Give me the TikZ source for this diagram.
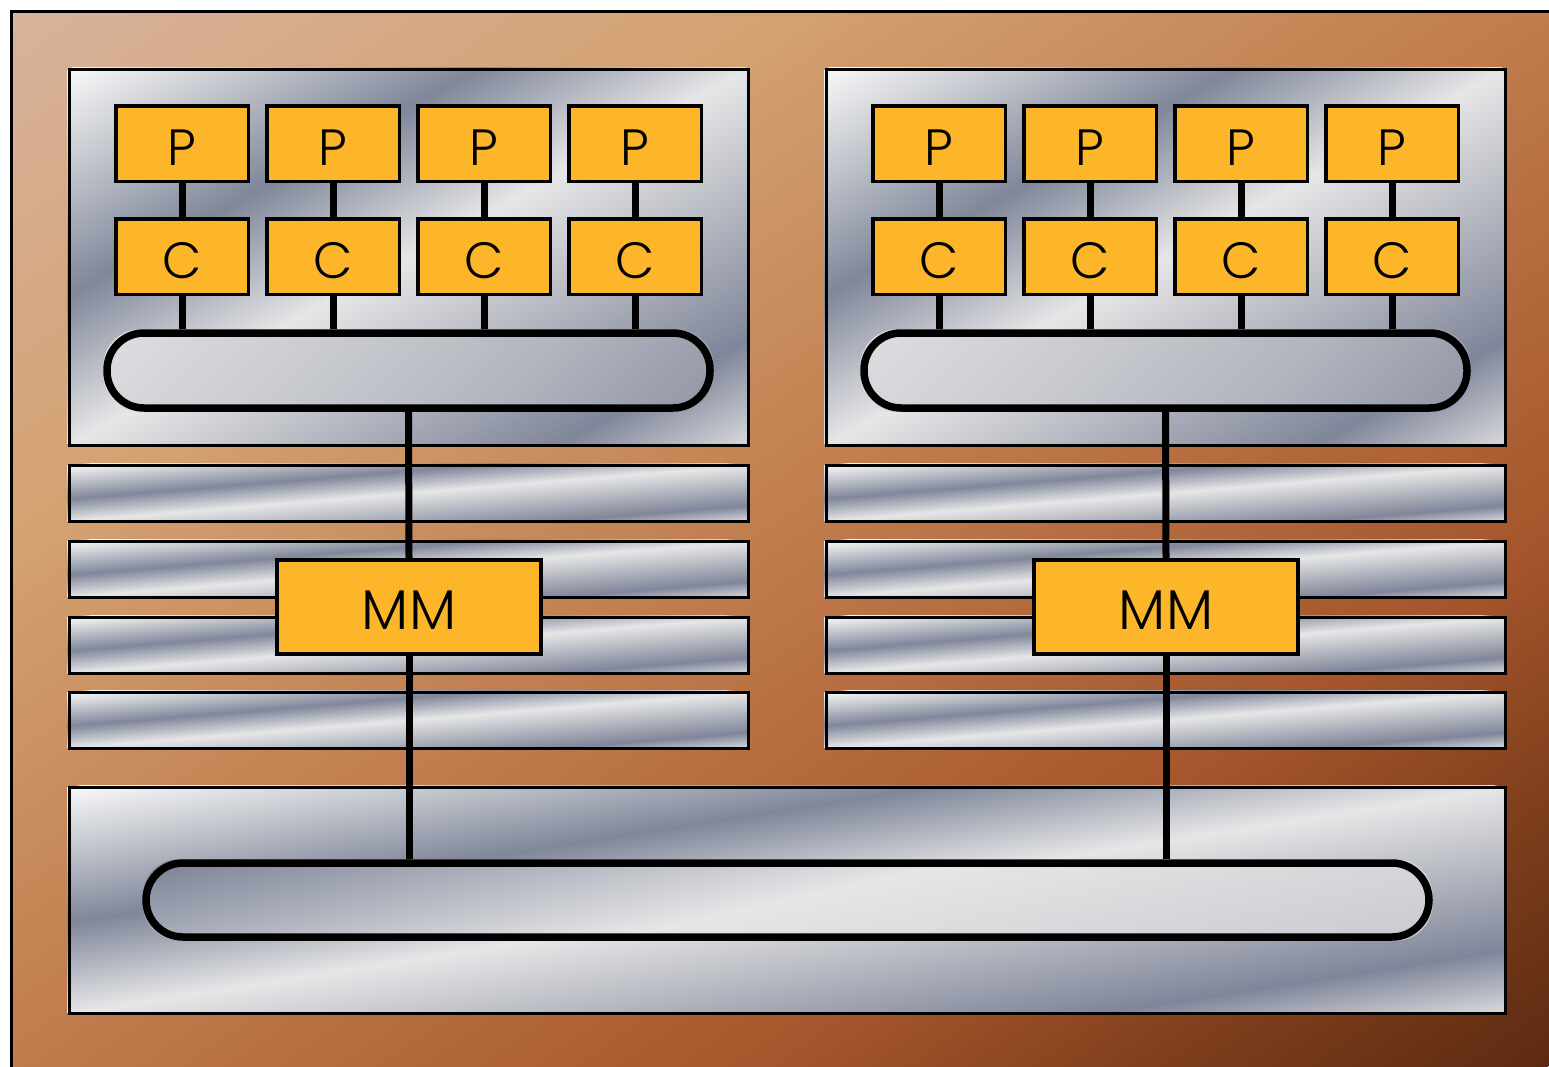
\documentclass[tikz,border=0pt]{standalone}
\usepackage{fontspec}
\IfFontExistsTF{Poppins Light}{\setmainfont{Poppins Light}}{\setmainfont{Poppins}}

% colours of the brushed-metal and copper finishes
\definecolor{chip}{HTML}{FDB62A}
\definecolor{mA}{HTML}{F8F8F8}
\definecolor{mB}{HTML}{C9CCD2}
\definecolor{mC}{HTML}{80879A}
\definecolor{mD}{HTML}{E6E6E7}
\definecolor{mE}{HTML}{C4C6CC}
\definecolor{mF}{HTML}{80869A}
\definecolor{mG}{HTML}{D8D9DC}
\definecolor{pA}{HTML}{D2D4D8}
\definecolor{pB}{HTML}{E8E8E9}
\definecolor{pC}{HTML}{CACCD1}
\definecolor{pD}{HTML}{B2B5BE}
\definecolor{pE}{HTML}{80869A}
\definecolor{pF}{HTML}{A4A8B3}
\definecolor{qA}{HTML}{B0B3BC}
\definecolor{qB}{HTML}{80879A}
\definecolor{qC}{HTML}{E6E6E7}
\definecolor{qD}{HTML}{D0D1D5}
\definecolor{qE}{HTML}{B8BBC3}
\definecolor{cA}{HTML}{D8B29C}
\definecolor{cB}{HTML}{D4A272}
\definecolor{cC}{HTML}{C07C4C}
\definecolor{cD}{HTML}{A5552B}
\definecolor{cE}{HTML}{7E3E1C}
\definecolor{cF}{HTML}{5C2A12}

% finishes: the span 25bp..75bp runs corner to corner of the target box
\pgfdeclarehorizontalshading{brushed}{100bp}{%
  color(0bp)=(mA); color(25bp)=(mA); color(31bp)=(mB); color(40bp)=(mC);
  color(50bp)=(mD); color(56bp)=(mE); color(68bp)=(mF); color(75bp)=(mG);
  color(100bp)=(mG)}
\pgfdeclarehorizontalshading{busfinish}{100bp}{%
  color(0bp)=(pA); color(25bp)=(pA); color(31bp)=(pB); color(45bp)=(pC);
  color(55bp)=(pD); color(69bp)=(pE); color(75bp)=(pF); color(100bp)=(pF)}
\pgfdeclarehorizontalshading{sysfinish}{100bp}{%
  color(0bp)=(qA); color(25bp)=(qA); color(35bp)=(qB); color(50bp)=(qC);
  color(62bp)=(qD); color(75bp)=(qE); color(100bp)=(qE)}
\pgfdeclarehorizontalshading{copper}{100bp}{%
  color(0bp)=(cA); color(25bp)=(cA); color(37.5bp)=(cB); color(50bp)=(cC);
  color(62.5bp)=(cD); color(68.75bp)=(cE); color(75bp)=(cF); color(100bp)=(cF)}

\pgfdeclarelayer{copperlayer}
\pgfdeclarelayer{metallayer}
\pgfsetlayers{copperlayer,metallayer,main}

% #1 node, #2 shading, #3/#4 size of the box the finish is stretched over,
% #5 corner style of the clip
\newcommand\metalin[5]{%
  \begin{pgfonlayer}{metallayer}
    \begin{scope}
      \clip[#5] (#1.north west) rectangle (#1.south east);
      \pgfmathsetmacro\metW{#3/100}%
      \pgfmathsetmacro\metH{#4/100}%
      \begin{scope}[transform canvas={shift={(#1.center)},
          cm={\metW,-\metH,\metW,\metH,(0,0)}}]
        \path[shading=#2] (-50pt,-50pt) rectangle (50pt,50pt);
      \end{scope}
    \end{scope}
  \end{pgfonlayer}}

\tikzset{
  frame/.style={draw=black, line width=3pt, inner sep=0pt},
  chipbox/.style={draw=black, line width=3.5pt, fill=chip, inner sep=0pt,
    minimum width=132.5pt, minimum height=75.5pt, text=black,
    text height=44pt, text depth=0pt,
    font=\fontsize{51}{51}\selectfont},
  membox/.style={chipbox, minimum width=264pt, minimum height=94pt,
    text height=45pt, font=\fontsize{56}{56}\selectfont},
  pill/.style={draw=black, line width=7.5pt, rounded corners=37pt, inner sep=0pt},
  panel/.style={frame, minimum width=679pt, minimum height=376pt},
  bar/.style={frame, minimum width=679pt, minimum height=56pt},
  wire/.style={draw=black, line width=7pt},
}

\begin{document}
\begin{tikzpicture}[x=1pt, y=-1pt]
  \useasboundingbox (0,0) rectangle (1549,1066);

  % copper board, running off the right and bottom edges
  \coordinate (boardmid) at (780.25,538.75);
  \begin{pgfonlayer}{copperlayer}
    \begin{scope}
      \clip (11.5,11.5) rectangle (1549,1066);
      \begin{scope}[transform canvas={shift={(boardmid)},
          cm={15.375,-10.545,15.375,10.545,(0,0)}}]
        \path[shading=copper] (-50pt,-50pt) rectangle (50pt,50pt);
      \end{scope}
    \end{scope}
    \begin{scope}
      \clip (0,0) rectangle (1549,1066);
      \draw[line width=3pt] (11.5,1090) -- (11.5,11.5) -- (1575,11.5);
    \end{scope}
  \end{pgfonlayer}

  % two processor boards, each with its own bank and memory module
  \foreach \s/\dx in {L/0, R/757} {
    \node[panel] (panel\s) at (408.5+\dx, 257) {};
    \metalin{panel\s}{brushed}{679}{376}{sharp corners}
    \foreach \i in {1,...,4} {
      \node[chipbox] (p\s\i) at (31+151*\i+\dx, 143.75) {P};
      \node[chipbox] (c\s\i) at (31+151*\i+\dx, 256.75) {C};
    }
    \node[pill, minimum width=603pt, minimum height=75pt]
      (bus\s) at (408.5+\dx, 370.5) {};
    \metalin{bus\s}{busfinish}{603}{603}{rounded corners=37pt}
    \foreach \j/\y in {1/493, 2/569, 3/645, 4/720} {
      \node[bar] (bar\s\j) at (408.5+\dx, \y) {};
      \metalin{bar\s\j}{brushed}{679}{56}{sharp corners}
    }
    \node[membox] (mm\s) at (409+\dx, 607) {MM};
  }

  % shared interconnect
  \node[frame, minimum width=1436pt, minimum height=226pt] (base) at (787, 900) {};
  \metalin{base}{brushed}{1436}{226}{sharp corners}
  \node[pill, minimum width=1283pt, minimum height=74pt] (sys) at (787.5, 900) {};
  \metalin{sys}{sysfinish}{1283}{282}{rounded corners=37pt}

  % processor to cache to board bus, board bus to memory to interconnect
  \foreach \s in {L, R} {
    \foreach \i in {1,...,4} {
      \draw[wire] (p\s\i.south) -- (c\s\i.north);
      \draw[wire] (c\s\i.south) -- (c\s\i.south |- bus\s.north);
    }
    \draw[wire] (bus\s.south) -- (mm\s.north);
    \draw[wire] (mm\s.south) -- (mm\s.south |- sys.north);
  }
\end{tikzpicture}
\end{document}
